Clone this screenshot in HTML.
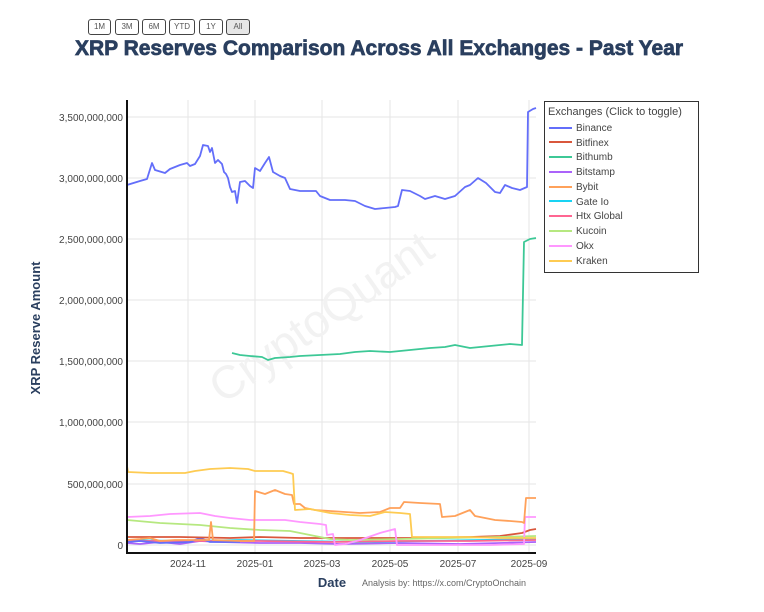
<!DOCTYPE html>
<html><head><meta charset="utf-8"><style>
body{margin:0;background:#fff;font-family:"Liberation Sans",Arial,sans-serif}
.btn{position:absolute;top:19px;height:14px;border:1px solid #444;border-radius:3px;font-size:8px;color:#555;text-align:center;line-height:14px;background:#fff}
</style></head><body>
<div style="position:relative;width:764px;height:612px;overflow:hidden">
<div class="btn" style="left:88px;width:21px">1M</div>
<div class="btn" style="left:115px;width:22px">3M</div>
<div class="btn" style="left:142px;width:22px">6M</div>
<div class="btn" style="left:169px;width:24px">YTD</div>
<div class="btn" style="left:199px;width:22px">1Y</div>
<div class="btn" style="left:226px;width:22px;background:#e6e6e6">All</div>
<svg width="764" height="612" style="position:absolute;left:0;top:0;pointer-events:none" font-family="Liberation Sans, Arial, sans-serif">
<text x="379" y="55" text-anchor="middle" font-size="21" font-weight="bold" fill="#2a3f5f" stroke="#2a3f5f" stroke-width="0.7">XRP Reserves Comparison Across All Exchanges - Past Year</text>
<g stroke="#e6e6e6" stroke-width="1">
<line x1="127" x2="536" y1="117" y2="117"/><line x1="127" x2="536" y1="178" y2="178"/><line x1="127" x2="536" y1="239" y2="239"/><line x1="127" x2="536" y1="300" y2="300"/><line x1="127" x2="536" y1="361" y2="361"/><line x1="127" x2="536" y1="422" y2="422"/><line x1="127" x2="536" y1="484" y2="484"/><line x1="127" x2="536" y1="545" y2="545"/>
<line x1="188" x2="188" y1="100" y2="553"/><line x1="255" x2="255" y1="100" y2="553"/><line x1="322" x2="322" y1="100" y2="553"/><line x1="390" x2="390" y1="100" y2="553"/><line x1="458" x2="458" y1="100" y2="553"/><line x1="529" x2="529" y1="100" y2="553"/>
</g>
<text x="330" y="330" text-anchor="middle" font-size="46" fill="#f2f2f2" transform="rotate(-35 330 330)">CryptoQuant</text>
<g font-size="10" fill="#444" text-anchor="end">
<text x="123" y="121">3,500,000,000</text><text x="123" y="182">3,000,000,000</text><text x="123" y="243">2,500,000,000</text><text x="123" y="304">2,000,000,000</text><text x="123" y="365">1,500,000,000</text><text x="123" y="426">1,000,000,000</text><text x="123" y="488">500,000,000</text><text x="123" y="549">0</text>
</g>
<g font-size="10" fill="#444" text-anchor="middle">
<text x="188" y="567">2024-11</text><text x="255" y="567">2025-01</text><text x="322" y="567">2025-03</text><text x="390" y="567">2025-05</text><text x="458" y="567">2025-07</text><text x="529" y="567">2025-09</text>
</g>
<text x="332" y="587" text-anchor="middle" font-size="13" font-weight="bold" fill="#2a3f5f">Date</text>
<text x="362" y="586" font-size="9" fill="#666">Analysis by: https://x.com/CryptoOnchain</text>
<text transform="translate(40 328) rotate(-90)" text-anchor="middle" font-size="13" font-weight="bold" fill="#2a3f5f">XRP Reserve Amount</text>
<g fill="none" stroke-width="1.8" stroke-linejoin="round">
<polyline stroke="#ab63fa" points="127,543 140,544 160,542 180,544 200,541 220,542 260,543 300,543 340,544 400,543 460,544 500,543 536,542"/>
<polyline stroke="#19d3f3" points="127,540 180,541 240,540 300,541 360,542 420,541 480,540 536,539"/>
<polyline stroke="#FF6692" points="127,541 200,541 260,541 330,542 400,541 470,541 536,540"/>
<polyline stroke="#636efa" points="127,542 140,541 160,543 190,542 200,538 210,542 240,542"/>
<polyline stroke="#d9573c" points="127,537 180,537 230,538 260,537 300,538 360,538 420,538 470,537 500,536 522,533 530,530 536,529"/>
<polyline stroke="#B6E880" points="127,520 160,523 200,525 230,528 260,530 290,531 315,536 330,539 350,540 400,539 450,538 500,537 536,536"/>
<polyline stroke="#FF97FF" points="127,517 150,516 170,514 200,513 215,516 230,518 250,520 270,520 285,520 300,522 320,524 326,525 327,535 333,534 335,545 345,544 360,540 380,533 395,529 397,545 440,545 490,545 524,544 525,517 536,517"/>
<polyline stroke="#FFA15A" points="127,540 140,539 150,538 160,541 175,540 195,540 209,540 211,522 213,540 240,541 254,541 255,491 265,494 275,490 285,494 292,495 294,504 300,504 305,508 315,510 330,511 345,512 360,513 380,512 390,508 400,508 404,502 420,503 440,504 442,517 455,516 470,510 475,516 485,518 495,520 510,521 522,522 524,523 526,498 536,498"/>
<polyline stroke="#FECB52" points="127,466 128,472 150,473 165,473 185,473 195,471 210,469 230,468 248,469 255,471 270,471 283,471 290,473 293,474 295,510 310,509 330,513 350,515 370,516 385,512 400,513 410,514 412,537 440,537 470,537 500,538 536,538"/>
<polyline stroke="#3dc896" points="232,353 240,355 250,356 262,357 268,360 275,358 290,357 300,356 320,355 340,354 355,352 370,351 390,352 410,350 430,348 445,347 455,345 470,348 490,346 510,344 522,345 524,242 530,239 536,238"/>
<polyline stroke="#636efa" points="127,185 140,181 147,179 152,163 155,170 165,173 170,169 180,165 187,163 190,166 195,164 200,156 203,145 208,146 210,152 212,148 215,163 218,160 220,162 222,164 224,172 226,174 228,178 230,187 232,192 235,191 237,203 240,182 245,181 250,186 253,188 255,168 260,171 265,163 269,157 273,172 280,176 285,178 290,189 300,191 316,191 320,196 330,200 345,200 355,201 365,206 375,209 385,208 395,207 398,206 402,190 410,191 420,196 425,199 435,196 445,199 455,196 465,187 470,185 478,178 486,183 495,192 500,193 505,185 512,188 520,190 527,187 528,112 533,109 536,108"/>
</g>
<line x1="127" y1="100" x2="127" y2="554" stroke="#111" stroke-width="2"/>
<line x1="126" y1="553" x2="536" y2="553" stroke="#111" stroke-width="2"/>
<rect x="544.5" y="101.5" width="154" height="171" fill="#fff" stroke="#333" stroke-width="1"/>
<text x="548" y="115" font-size="11" fill="#444">Exchanges (Click to toggle)</text>
<g font-size="10" fill="#444" stroke-width="2">
<line x1="549" x2="572" y1="128" y2="128" stroke="#636efa"/><text x="576" y="131">Binance</text>
<line x1="549" x2="572" y1="142" y2="142" stroke="#d9573c"/><text x="576" y="146">Bitfinex</text>
<line x1="549" x2="572" y1="157" y2="157" stroke="#3dc896"/><text x="576" y="160">Bithumb</text>
<line x1="549" x2="572" y1="172" y2="172" stroke="#ab63fa"/><text x="576" y="175">Bitstamp</text>
<line x1="549" x2="572" y1="187" y2="187" stroke="#FFA15A"/><text x="576" y="190">Bybit</text>
<line x1="549" x2="572" y1="201" y2="201" stroke="#19d3f3"/><text x="576" y="205">Gate Io</text>
<line x1="549" x2="572" y1="216" y2="216" stroke="#FF6692"/><text x="576" y="219">Htx Global</text>
<line x1="549" x2="572" y1="231" y2="231" stroke="#B6E880"/><text x="576" y="234">Kucoin</text>
<line x1="549" x2="572" y1="246" y2="246" stroke="#FF97FF"/><text x="576" y="249">Okx</text>
<line x1="549" x2="572" y1="261" y2="261" stroke="#FECB52"/><text x="576" y="264">Kraken</text>
</g>
</svg>
</div>
</body></html>
